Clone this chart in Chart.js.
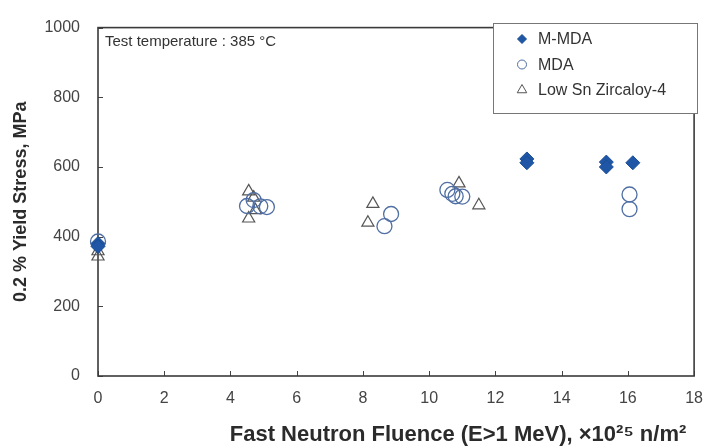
<!DOCTYPE html>
<html>
<head>
<meta charset="utf-8">
<script src="https://cdn.jsdelivr.net/npm/chart.js@4"></script>
<style>
  html, body { margin: 0; padding: 0; background: #fff; }
  #wrap { width: 716px; height: 446px; }
</style>
</head>
<body>
<div id="wrap"><canvas id="c" width="716" height="446"></canvas></div>
<script>
// ---- data ----
const seriesNames = ["M-MDA", "MDA", "Low Sn Zircaloy-4"];
const mmdaX = [0, 0, 12.95, 12.95, 15.35, 15.35, 16.15];
const mmdaY = [380, 372, 623, 612, 614, 600, 612];
const mdaX = [0, 4.5, 4.7, 4.9, 5.1, 8.65, 8.85, 10.55, 10.7, 10.8, 11.0, 16.05, 16.05];
const mdaY = [386, 488, 505, 487, 485, 430, 465, 534, 523, 516, 515, 521, 479];
const znX = [0, 0, 4.55, 4.7, 4.75, 4.55, 8.15, 8.3, 10.9, 11.5];
const znY = [358, 343, 530, 512, 476, 452, 440, 494, 553, 490];
const xTicks = [0, 2, 4, 6, 8, 10, 12, 14, 16, 18];
const yTicks = [0, 200, 400, 600, 800, 1000];
const xTitle = "Fast Neutron Fluence (E>1 MeV), \u00d710\u00b2\u2075 n/m\u00b2";
const yTitle = "0.2 % Yield Stress, MPa";
const note = "Test temperature : 385 \u00b0C";

const pts = (xs, ys) => xs.map((x, i) => ({ x: x, y: ys[i] }));

const FONT = "'Liberation Sans', Arial, sans-serif";
const TXT = "#333333";

const styles = [
  { pointStyle: 'rectRot', radius: 7, bg: '#1f57a6', border: '#1a4c94', bw: 1, legendR: 4.5 },
  { pointStyle: 'circle', radius: 7.5, bg: 'rgba(0,0,0,0)', border: '#4f6ea3', bw: 1.3, legendR: 4.5 },
  { pointStyle: 'triangle', radius: 7, bg: 'rgba(0,0,0,0)', border: '#555555', bw: 1.2, legendR: 5.5 }
];

const dataSets = [pts(mmdaX, mmdaY), pts(mdaX, mdaY), pts(znX, znY)];

// frame, inward ticks, note, x title and in-plot legend
const decor = {
  id: 'decor',
  beforeDatasetsDraw(chart) {
    const ctx = chart.ctx;
    const a = chart.chartArea;
    const xs = chart.scales.x, ys = chart.scales.y;
    ctx.save();
    ctx.strokeStyle = '#444';
    ctx.lineWidth = 1;
    ctx.beginPath();
    xTicks.forEach(v => {
      const px = Math.round(xs.getPixelForValue(v)) + 0.5;
      ctx.moveTo(px, a.bottom); ctx.lineTo(px, a.bottom - 5);
    });
    yTicks.forEach(v => {
      const py = Math.round(ys.getPixelForValue(v)) + 0.5;
      ctx.moveTo(a.left, py); ctx.lineTo(a.left + 5, py);
    });
    ctx.stroke();
    ctx.lineWidth = 1.6;
    ctx.strokeStyle = '#3a3a3a';
    ctx.strokeRect(a.left, a.top, a.right - a.left, a.bottom - a.top);
    ctx.restore();
  },
  afterDraw(chart) {
    const ctx = chart.ctx;
    const a = chart.chartArea;
    ctx.save();
    // note
    ctx.fillStyle = TXT;
    ctx.font = "15px " + FONT;
    ctx.textAlign = 'left';
    ctx.textBaseline = 'alphabetic';
    ctx.fillText(note, a.left + 7, a.top + 18);
    // x-axis title (sits right of the plot centre in the reference)
    ctx.fillStyle = '#2b2b2b';
    ctx.font = "bold 22px " + FONT;
    ctx.textAlign = 'center';
    ctx.fillText(xTitle, 458, 441);
    // legend box
    const lx = 493, ly = 23, lw = 204, lh = 90;
    ctx.textAlign = 'left';
    ctx.lineWidth = 1;
    ctx.strokeStyle = '#777';
    ctx.fillStyle = '#fff';
    ctx.fillRect(lx, ly, lw, lh);
    ctx.strokeRect(lx + 0.5, ly + 0.5, lw, lh);
    ctx.font = "16px " + FONT;
    ctx.textBaseline = 'middle';
    seriesNames.forEach((name, i) => {
      const s = styles[i];
      const cy = ly + 16 + i * 25.5;
      ctx.fillStyle = s.bg;
      ctx.strokeStyle = s.border;
      ctx.lineWidth = 1;
      Chart.helpers.drawPoint(ctx, { pointStyle: s.pointStyle, radius: s.legendR, rotation: 0, borderWidth: 1 }, lx + 29, cy);
      ctx.fillStyle = TXT;
      ctx.fillText(name, lx + 45, cy + 1);
    });
    ctx.restore();
  }
};

new Chart(document.getElementById('c'), {
  type: 'scatter',
  data: {
    datasets: seriesNames.map((name, i) => ({
      label: name,
      data: dataSets[i],
      pointStyle: styles[i].pointStyle,
      pointRadius: styles[i].radius,
      pointHoverRadius: styles[i].radius,
      backgroundColor: styles[i].bg,
      borderColor: styles[i].border,
      borderWidth: styles[i].bw,
      clip: false,
      order: i
    }))
  },
  options: {
    responsive: false,
    animation: false,
    devicePixelRatio: 1,
    layout: { padding: { top: 18, right: 11, left: 0, bottom: 0 } },
    plugins: { legend: { display: false }, tooltip: { enabled: false } },
    scales: {
      x: {
        type: 'linear',
        min: 0, max: 18,
        afterBuildTicks(s) { s.ticks = xTicks.map(v => ({ value: v })); },
        afterFit(s) { s.height = 70; },
        grid: { display: false, drawTicks: false },
        border: { display: false },
        ticks: { padding: 13, color: '#444', font: { family: FONT, size: 16 }, callback: v => String(v) },
        title: { display: false, text: xTitle }
      },
      y: {
        type: 'linear',
        min: 0, max: 1000,
        afterBuildTicks(s) { s.ticks = yTicks.map(v => ({ value: v })); },
        afterFit(s) { s.width = 98; },
        grid: { display: false, drawTicks: false },
        border: { display: false },
        ticks: { padding: 18, color: '#444', font: { family: FONT, size: 16 }, callback: v => String(v) },
        title: {
          display: true, text: yTitle, color: '#2b2b2b',
          font: { family: FONT, size: 18, weight: 'bold', lineHeight: 1.2 },
          padding: { top: 10, bottom: 0 }
        }
      }
    }
  },
  plugins: [decor]
});
</script>
</body>
</html>
